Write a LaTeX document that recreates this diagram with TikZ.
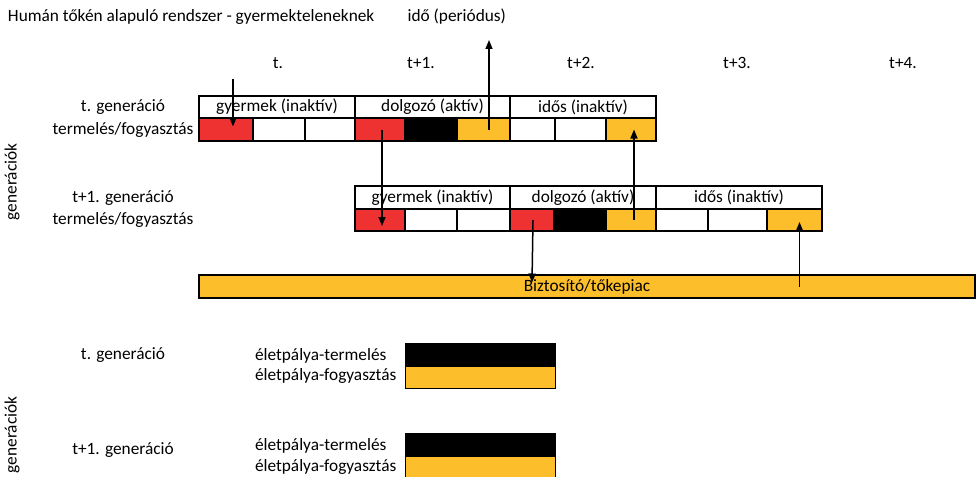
\documentclass[tikz,border=0pt]{standalone}
\usepackage{fontspec}
\setmainfont{Carlito}
\usetikzlibrary{arrows.meta,calc}
\definecolor{cred}{RGB}{238,50,50}
\definecolor{corange}{RGB}{252,190,42}
\newcommand\fsz{\fontsize{17.3pt}{20pt}\selectfont}
\newcommand\mkcell[6]{\node[cellst, fill=#6, minimum width={#4pt-#2pt}, minimum height={#5pt-#3pt}] (#1) at (#2,#3) {};}
\newcommand\mkhdr[6]{\node[cellst, fill=white, font=\fsz, minimum width={#4pt-#2pt}, minimum height={#5pt-#3pt}] (#1) at (#2,#3) {\raisebox{-1.5pt}{#6}};}
\tikzset{
  lbl/.style={font=\fsz, inner sep=0pt, outer sep=0pt},
  cellst/.style={draw=black, line width=1.5pt, anchor=north west, inner sep=0pt, outer sep=0pt},
  thinbox/.style={draw=black, line width=1pt, anchor=north west, inner sep=0pt, outer sep=0pt},
  arr/.style={line width=1.5pt, -{Triangle[length=9pt,width=7pt]}},
}
\begin{document}
\begin{tikzpicture}[x=1pt,y=-1pt]
\useasboundingbox (0,0) rectangle (976,476);
% titles
\node[lbl, anchor=west] (title) at (8,17) {Humán tőkén alapuló rendszer - gyermekteleneknek};
\node[lbl, anchor=east] (ido) at (506,17) {idő (periódus)};
% period labels
\node[lbl] (p0) at (278,63) {t.};
\node[lbl] (p1) at (421,63) {t+1.};
\node[lbl] (p2) at (581,63) {t+2.};
\node[lbl] (p3) at (737,63) {t+3.};
\node[lbl] (p4) at (903,63) {t+4.};
% left labels upper
\node[lbl] (g1) at (123,107) {t. generáció};
\node[lbl] (g1b) at (123,130) {termelés/fogyasztás};
\node[lbl] (g2) at (123,198) {t+1. generáció};
\node[lbl] (g2b) at (123,220) {termelés/fogyasztás};
\node[lbl, rotate=90] (gen1) at (12,182) {generációk};
% t. generation
\mkhdr{h1}{199}{96}{355}{118}{gyermek (inaktív)}
\mkhdr{h2}{355}{96}{510}{118}{dolgozó (aktív)}
\mkhdr{h3}{510}{96}{656}{118}{idős (inaktív)}
\mkcell{c1}{199}{118}{253}{141}{cred}
\mkcell{c2}{253}{118}{305}{141}{white}
\mkcell{c3}{305}{118}{355}{141}{white}
\mkcell{c4}{355}{118}{405}{141}{cred}
\mkcell{c5}{405}{118}{457}{141}{black}
\mkcell{c6}{457}{118}{510}{141}{corange}
\mkcell{c7}{510}{118}{555}{141}{white}
\mkcell{c8}{555}{118}{606}{141}{white}
\mkcell{c9}{606}{118}{656}{141}{corange}
% t+1 generation
\mkhdr{k1}{355}{186}{510}{209}{gyermek (inaktív)}
\mkhdr{k2}{510}{186}{656}{209}{dolgozó (aktív)}
\mkhdr{k3}{656}{186}{822}{209}{idős (inaktív)}
\mkcell{d1}{355}{209}{405}{231}{cred}
\mkcell{d2}{405}{209}{457}{231}{white}
\mkcell{d3}{457}{209}{510}{231}{white}
\mkcell{d4}{510}{209}{554}{231}{cred}
\mkcell{d5}{554}{209}{606}{231}{black}
\mkcell{d6}{606}{209}{656}{231}{corange}
\mkcell{d7}{656}{209}{708}{231}{white}
\mkcell{d8}{708}{209}{767}{231}{white}
\mkcell{d9}{767}{209}{822}{231}{corange}
% bar
\node[cellst, fill=corange, font=\fsz, minimum width=776pt, minimum height=23pt] (bar) at (199,275) {\raisebox{-1.5pt}{Biztosító/tőkepiac}};
% arrows
\coordinate (a1s) at (233,79);
\draw[arr] (a1s) -- ([yshift=3pt]a1s |- c1.center);
\coordinate (a2e) at (489,40);
\draw[arr] (a2e |- c6.center) -- (a2e);
\draw[arr] ([xshift=2pt]c4.center) -- ([xshift=2pt,yshift=-6pt]d1.center);
\draw[arr] ([xshift=3pt]d6.center) -- ([xshift=3pt]c9.center);
\draw[arr] ([xshift=1pt]d4.center) -- ([yshift=4pt]d4.center |- bar.center);
\draw[arr] ([xshift=5pt]d9.center |- bar.center) -- ([xshift=5pt,yshift=-2pt]d9.center);
% lower section
\node[lbl] (b1) at (123,355) {t. generáció};
\node[lbl, anchor=west] (b1p) at (255,356) {életpálya-termelés};
\node[lbl, anchor=west] (b1c) at (255,376) {életpálya-fogyasztás};
\node[thinbox, fill=black, minimum width=150pt, minimum height=22pt] (e1) at (405,343) {};
\node[thinbox, fill=corange, minimum width=150pt, minimum height=22pt] (f1) at (405,366) {};
\node[lbl] (b2) at (123,450) {t+1. generáció};
\node[lbl, anchor=west] (b2p) at (255,446) {életpálya-termelés};
\node[lbl, anchor=west] (b2c) at (255,467) {életpálya-fogyasztás};
\node[thinbox, fill=black, minimum width=150pt, minimum height=22pt] (e2) at (405,433) {};
\node[thinbox, fill=corange, minimum width=150pt, minimum height=22pt] (f2) at (405,456) {};
\node[lbl, rotate=90] (gen2) at (12,435) {generációk};
\end{tikzpicture}
\end{document}
